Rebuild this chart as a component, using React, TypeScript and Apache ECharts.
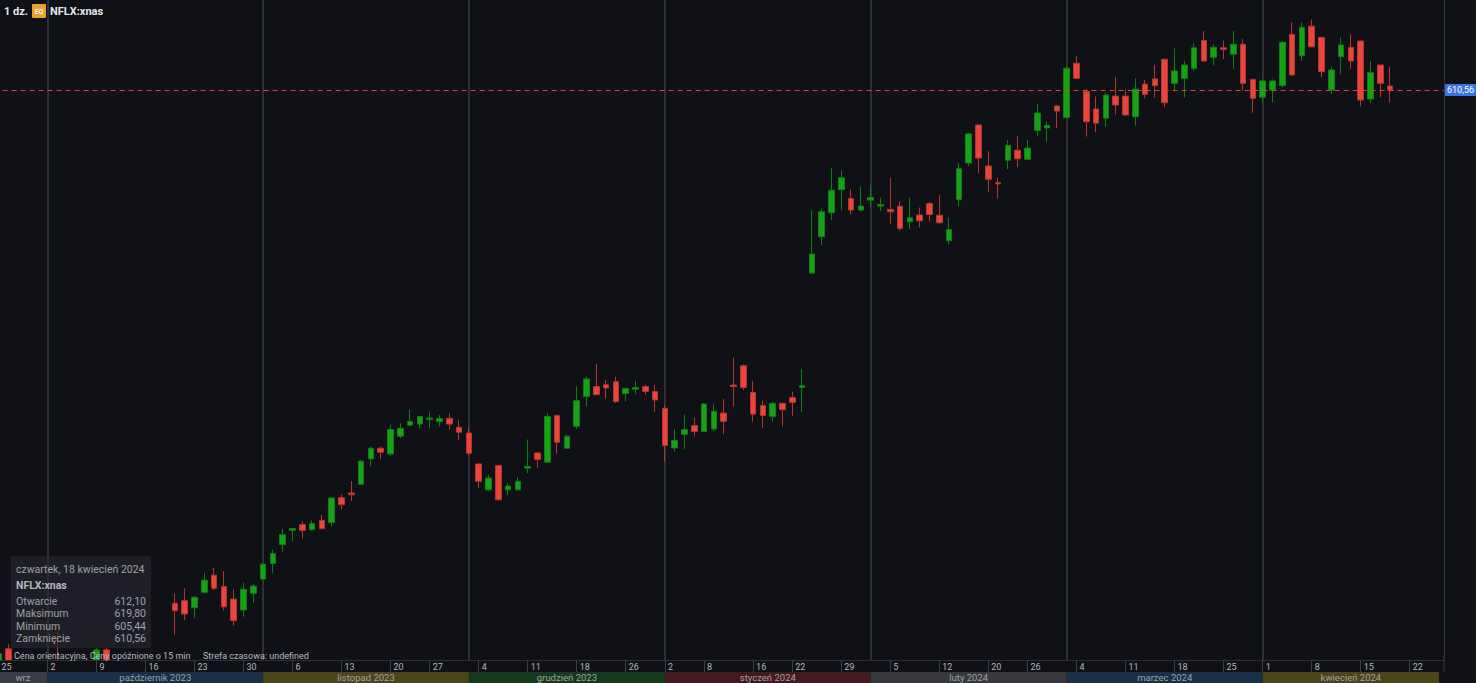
import React, { useEffect, useRef } from 'react';
import * as echarts from 'echarts';

const TICKER = 'NFLX:xnas';
const INTERVAL_LABEL = '1 dz.';
const STATUS_LEFT = 'Cena orientacyjna, Ceny opóźnione o 15 min';
const STATUS_RIGHT = 'Strefa czasowa: undefined';

const HOLIDAYS = ['2023-11-23', '2023-12-25', '2024-01-01', '2024-01-15', '2024-02-19', '2024-03-29'];
const RANGE_START = [2023, 8, 25];
const RANGE_END = [2024, 3, 25];

// [open, close, low, high]
const sepBars = [
  [375, 384, 373, 387], [386, 379, 377, 388], [379, 376, 372, 381], [376, 378, 371, 380], [380, 377.6, 375, 381],
];
const octBars = [
  [377, 375, 370, 380], [375, 372, 368, 393], [373, 379, 371, 380], [379, 376, 373, 381], [375, 379, 372, 381],
  [378, 385.5, 376, 386.5], [385.6, 381, 378, 386.5], [372, 363, 360, 373], [363, 358, 355, 365], [358, 355, 353, 360],
  [356, 357, 353, 359], [356, 355, 351, 358], [356, 346, 344, 357], [404.3, 401.3, 391.6, 408.3], [405.3, 400.0, 397.6, 410.3],
  [402.5, 406.7, 398.3, 407.2], [408.7, 413.6, 408.3, 416.6], [415.6, 410.3, 409.6, 418.6], [411.0, 402.9, 401.3, 417.2], [406.0, 397.3, 395.3, 409.9],
  [401.6, 409.9, 398.9, 412.6], [408.3, 411.2, 404.5, 411.9],
];
const novBars = [
  [414.0, 420.0, 413.6, 420.3], [420.3, 424.3, 416.6, 425.9], [427.9, 431.9, 425.0, 434.3], [433.6, 434.3, 429.2, 434.6], [435.9, 433.6, 430.3, 437.2],
  [433.9, 436.3, 433.4, 437.6], [437.6, 434.3, 434.0, 439.9], [436.7, 446.6, 435.2, 447.0], [446.7, 443.9, 442.0, 448.1], [448.6, 447.9, 445.4, 453.4],
  [452.1, 461.4, 451.9, 461.9], [462.3, 466.6, 459.3, 467.3], [466.6, 465.0, 462.2, 467.3], [464.3, 474.1, 463.5, 476.1], [471.4, 474.6, 470.7, 476.6],
  [475.9, 477.4, 475.5, 482.1], [476.3, 479.3, 474.6, 479.7], [478.1, 478.7, 474.7, 481.4], [477.3, 478.5, 475.4, 479.9], [478.6, 476.3, 474.1, 480.7],
  [475.0, 473.0, 469.7, 478.1],
];
const decBars = [
  [472.7, 464.6, 463.7, 475.0], [460.3, 453.3, 450.6, 460.6], [449.9, 454.6, 449.3, 455.9], [459.7, 445.9, 445.5, 459.9], [449.9, 451.4, 447.7, 452.6],
  [449.9, 453.3, 449.7, 455.0], [458.6, 459.3, 456.6, 470.1], [464.7, 462.1, 458.6, 465.0], [461.0, 479.4, 460.7, 480.6], [479.7, 469.0, 464.3, 480.1],
  [466.6, 471.4, 466.3, 472.1], [475.4, 485.7, 474.3, 491.4], [487.4, 494.4, 483.4, 495.4], [491.4, 488.1, 488.0, 500.6], [492.1, 490.8, 486.4, 494.0],
  [493.3, 485.4, 484.8, 495.4], [488.6, 490.6, 485.4, 490.7], [490.3, 491.0, 488.4, 493.7], [491.4, 489.4, 488.3, 492.1], [489.4, 486.0, 481.3, 491.9],
];
const janBars = [
  [482.6, 467.7, 461.4, 484.0], [466.7, 469.7, 465.3, 474.3], [472.1, 474.1, 466.3, 480.1], [475.7, 473.3, 471.3, 479.0], [473.3, 484.4, 473.0, 484.6],
  [474.3, 481.4, 473.4, 484.6], [480.7, 477.4, 472.3, 486.4], [492.0, 491.4, 483.3, 502.9], [499.7, 491.0, 490.0, 500.4], [489.0, 480.3, 477.3, 493.7],
  [483.7, 479.7, 474.7, 485.7], [479.3, 484.6, 477.3, 485.4], [484.6, 482.1, 475.4, 485.0], [487.0, 485.0, 479.7, 489.3], [491.0, 491.7, 481.0, 498.4],
  [537.0, 544.6, 536.5, 562.3], [551.6, 561.6, 548.2, 562.9], [561.2, 570.3, 558.3, 579.3], [570.5, 575.3, 562.3, 578.3], [566.9, 562.3, 560.5, 570.5],
  [562.3, 563.9, 561.6, 571.9],
];
const febBars = [
  [566.3, 567.3, 563.6, 572.3], [563.9, 564.5, 562.0, 567.3], [562.5, 561.6, 556.9, 575.3], [563.8, 554.9, 554.0, 565.9], [557.6, 559.2, 554.6, 567.3],
  [560.3, 558.0, 555.3, 563.3], [564.9, 560.5, 557.8, 565.6], [560.2, 557.2, 556.9, 568.2], [550.0, 554.5, 548.6, 559.3], [566.5, 578.9, 563.8, 581.2],
  [581.2, 592.9, 580.0, 593.3], [596.5, 583.2, 577.2, 596.7], [580.0, 574.7, 569.6, 585.9], [573.3, 572.8, 566.9, 575.3], [582.3, 588.3, 578.7, 590.5],
  [586.3, 582.9, 579.6, 591.9], [582.7, 587.2, 582.4, 590.5], [594.3, 601.3, 592.0, 604.9], [595.3, 596.3, 589.6, 597.9], [604.1, 602.1, 595.2, 604.5],
];
const marBars = [
  [599.5, 619.3, 599.3, 619.9], [621.3, 615.2, 615.0, 624.3], [609.9, 597.8, 591.8, 610.9], [602.9, 597.2, 593.5, 607.9], [599.2, 608.5, 595.8, 609.6],
  [608.1, 604.5, 600.8, 615.9], [608.1, 600.5, 600.2, 610.9], [599.8, 610.9, 596.2, 615.2], [612.9, 608.8, 607.2, 614.6], [615.0, 612.3, 607.5, 620.6],
  [622.9, 605.4, 603.8, 623.0], [613.2, 618.2, 610.2, 627.3], [615.2, 620.6, 607.6, 622.3], [619.2, 627.5, 618.2, 629.3], [630.4, 622.2, 622.0, 634.2],
  [623.7, 627.7, 620.6, 628.9], [627.5, 626.9, 622.9, 630.4], [624.9, 628.9, 619.0, 634.2], [628.9, 613.2, 610.5, 631.0], [614.8, 607.2, 601.4, 614.8],
];
const aprBars = [
  [607.6, 614.2, 605.6, 614.8], [610.5, 614.2, 605.6, 614.8], [612.3, 629.7, 611.6, 630.2], [632.9, 616.6, 616.3, 637.7], [624.3, 635.7, 622.3, 637.7],
  [636.2, 627.9, 627.7, 638.9], [631.7, 617.9, 615.6, 631.9], [610.5, 618.6, 608.9, 619.9], [623.9, 628.6, 617.0, 631.6], [627.7, 622.2, 619.0, 633.0],
  [630.2, 606.5, 603.9, 630.4], [606.9, 617.5, 605.2, 622.2], [620.6, 613.2, 607.6, 620.6], [612.10, 610.56, 605.44, 619.80],
];

const MONTH_BAND_LABELS = ['wrz', 'październik 2023', 'listopad 2023', 'grudzień 2023', 'styczeń 2024', 'luty 2024', 'marzec 2024', 'kwiecień 2024'];
const MONTH_BAND_COLORS = ['#393c42', '#1a2f46', '#48461a', '#15391d', '#42191c', '#36383d', '#1a2f46', '#48461a'];
const MONTHS_GEN = ['styczeń', 'luty', 'marzec', 'kwiecień', 'maj', 'czerwiec', 'lipiec', 'sierpień', 'wrzesień', 'październik', 'listopad', 'grudzień'];
const WEEKDAYS = ['niedziela', 'poniedziałek', 'wtorek', 'środa', 'czwartek', 'piątek', 'sobota'];
const TOOLTIP_ROWS = ['Otwarcie', 'Maksimum', 'Minimum', 'Zamknięcie'];

const BG = '#0f1117';
const UP = '#15a215';
const UP_BORDER = '#0f7d12';
const DOWN = '#e8453c';
const DOWN_BORDER = '#b5352e';
const AXIS_LINE = '#34373d';

function tradingDays(): string[] {
  const out: string[] = [];
  const d = new Date(Date.UTC(RANGE_START[0], RANGE_START[1], RANGE_START[2]));
  const end = Date.UTC(RANGE_END[0], RANGE_END[1], RANGE_END[2]);
  while (d.getTime() <= end) {
    const wd = d.getUTCDay();
    const s = d.toISOString().slice(0, 10);
    if (wd !== 0 && wd !== 6 && HOLIDAYS.indexOf(s) < 0) out.push(s);
    d.setUTCDate(d.getUTCDate() + 1);
  }
  return out;
}

const fmt = (v: number) => v.toFixed(2).replace('.', ',');

export default function App() {
  const ref = useRef<HTMLDivElement>(null);
  useEffect(() => {
    if (!ref.current) return;
    const chart = echarts.init(ref.current, undefined, { renderer: 'svg' });
    const days = tradingDays();
    const bars = [...sepBars, ...octBars, ...novBars, ...decBars, ...janBars, ...febBars, ...marBars, ...aprBars];
    const wd = (s: string) => new Date(s + 'T00:00:00Z').getUTCDay();
    const weekStart = days.map((d, i) => i === 0 || wd(d) <= wd(days[i - 1]));
    const monthKey = (s: string) => s.slice(0, 7);
    const monthStarts: number[] = [];
    days.forEach((d, i) => { if (i === 0 || monthKey(d) !== monthKey(days[i - 1])) monthStarts.push(i); });
    const bands = monthStarts.map((s, k) => {
      const e = k + 1 < monthStarts.length ? monthStarts[k + 1] : days.length - 1;
      return [
        { name: MONTH_BAND_LABELS[k], xAxis: days[s], itemStyle: { color: MONTH_BAND_COLORS[k] } },
        { xAxis: days[e] },
      ];
    });
    const lastIdx = bars.length - 1;
    const last = bars[lastIdx];
    const lastDate = new Date(days[lastIdx] + 'T00:00:00Z');
    const dateText = `${WEEKDAYS[lastDate.getUTCDay()]}, ${lastDate.getUTCDate()} ${MONTHS_GEN[lastDate.getUTCMonth()]} ${lastDate.getUTCFullYear()}`;
    const rowValues = [last[0], last[3], last[2], last[1]];
    const FONT = 'Roboto, sans-serif';

    const graphic: any[] = [
      // mask below the price pane so candles that extend past the bottom are cut off
      { type: 'rect', z: 10, silent: true, shape: { x: 0, y: 660.5, width: 1443.5, height: 23 }, style: { fill: BG } },
      { type: 'line', z: 40, silent: true, shape: { x1: 1444, y1: 655, x2: 1444, y2: 672 }, style: { stroke: AXIS_LINE, lineWidth: 1 } },
      { type: 'text', x: 4, y: 11, z: 100, style: { text: INTERVAL_LABEL, fill: '#e6e7ea', font: `bold 11px ${FONT}`, verticalAlign: 'middle' } },
      { type: 'rect', z: 100, shape: { x: 32, y: 4, width: 14, height: 14, r: 1 }, style: { fill: '#eba12e' } },
      { type: 'text', x: 39, y: 11.5, z: 101, style: { text: 'EQ', fill: '#fff5e0', font: `bold 7px ${FONT}`, align: 'center', verticalAlign: 'middle' } },
      { type: 'text', x: 50, y: 11, z: 100, style: { text: TICKER, fill: '#e6e7ea', font: `bold 11px ${FONT}`, verticalAlign: 'middle' } },
      { type: 'rect', z: 100, shape: { x: 11, y: 556, width: 140, height: 92, r: 2 }, style: { fill: 'rgba(40,42,48,0.6)' } },
      { type: 'text', x: 16, y: 569, z: 101, style: { text: dateText, fill: '#9ea1a6', font: `10.5px ${FONT}`, verticalAlign: 'middle' } },
      { type: 'text', x: 16, y: 585.5, z: 101, style: { text: TICKER, fill: '#b6b9be', font: `bold 10.5px ${FONT}`, verticalAlign: 'middle' } },
      ...TOOLTIP_ROWS.flatMap((label, k) => {
        const y = [601.5, 613.5, 626, 638.5][k];
        return [
          { type: 'text', x: 16, y, z: 101, style: { text: label, fill: '#9ea1a6', font: `10.5px ${FONT}`, verticalAlign: 'middle' } },
          { type: 'text', x: 146, y, z: 101, style: { text: fmt(rowValues[k]), fill: '#9ea1a6', font: `10.5px ${FONT}`, align: 'right', verticalAlign: 'middle' } },
        ];
      }),
      { type: 'text', x: 14, y: 656, z: 100, style: { text: STATUS_LEFT, fill: '#b7bac0', font: `9px ${FONT}`, verticalAlign: 'middle' } },
      { type: 'text', x: 203, y: 656, z: 100, style: { text: STATUS_RIGHT, fill: '#b7bac0', font: `9px ${FONT}`, verticalAlign: 'middle' } },
    ];

    const option: any = {
      animation: false,
      backgroundColor: BG,
      textStyle: { fontFamily: FONT },
      grid: [
        { left: -6.4, right: 32, top: 0, bottom: 23, outerBoundsMode: 'none', containLabel: false },
        { left: -6.4, right: 32, top: 672, bottom: 0, outerBoundsMode: 'none', containLabel: false },
      ],
      xAxis: [
        {
          type: 'category', gridIndex: 0, data: days, boundaryGap: true, z: 30,
          axisLine: { show: true, lineStyle: { color: '#2c2f35' } },
          axisTick: { show: true, alignWithLabel: true, length: 12, interval: (i: number) => weekStart[i], lineStyle: { color: '#3a3d43' } },
          axisLabel: {
            interval: (i: number) => weekStart[i],
            formatter: (v: string) => String(Number(v.slice(8))),
            color: '#b3b6bb', fontSize: 9, align: 'left', margin: 2, padding: [0, 0, 0, 3],
          },
          splitLine: { show: false },
        },
        { type: 'category', gridIndex: 1, data: days, boundaryGap: true, show: false },
      ],
      yAxis: [
        {
          type: 'value', gridIndex: 0, position: 'right', min: 381.5, max: 646.7, interval: 25, z: 30,
          axisLine: { show: true, lineStyle: { color: AXIS_LINE } },
          axisTick: { show: false },
          splitLine: { show: false },
          axisLabel: {
            color: '#8b8e94', fontSize: 9, margin: 3, showMinLabel: false, showMaxLabel: false,
            formatter: (v: number) => (Math.abs(v % 25) < 1e-6 ? fmt(v) : ''),
          },
        },
        { type: 'value', gridIndex: 1, min: 0, max: 1, show: false },
      ],
      series: [
        {
          type: 'line', xAxisIndex: 0, yAxisIndex: 0, data: [], silent: true,
          markLine: {
            silent: true, symbol: ['none', 'none'], z: 1, animation: false,
            label: { show: false },
            lineStyle: { color: '#393c42', width: 1.5, type: 'solid' },
            emphasis: { disabled: true },
            data: monthStarts.filter((i) => i > 0).map((i) => ({ xAxis: days[i] })),
          },
        },
        {
          type: 'candlestick', xAxisIndex: 0, yAxisIndex: 0, z: 2, clip: true,
          data: bars, barWidth: 6,
          itemStyle: { color: UP, color0: DOWN, borderColor: UP_BORDER, borderColor0: DOWN_BORDER, borderWidth: 1 },
          markLine: {
            silent: true, symbol: ['none', 'none'], animation: false,
            emphasis: { disabled: true },
            data: [{
              yAxis: last[1],
              lineStyle: { color: '#d8443b', type: [5, 4], width: 1 },
              label: {
                show: true, position: 'end', distance: 1, formatter: () => fmt(last[1]),
                backgroundColor: '#3c73de', color: '#ffffff', fontSize: 9, padding: [2, 2, 1, 2], borderRadius: 1,
              },
            }],
          },
        },
        {
          type: 'scatter', xAxisIndex: 1, yAxisIndex: 1, data: [], silent: true, z: 20,
          markArea: {
            silent: true, animation: false, z: 20,
            label: { show: true, position: 'inside', color: '#9fa2a7', fontSize: 9.5 },
            emphasis: { disabled: true },
            data: bands,
          },
        },
      ],
      graphic,
    };
    chart.setOption(option);
    return () => chart.dispose();
  }, []);
  return <div ref={ref} style={{ position: 'fixed', left: 0, top: 0, width: 1476, height: 683 }} />;
}
